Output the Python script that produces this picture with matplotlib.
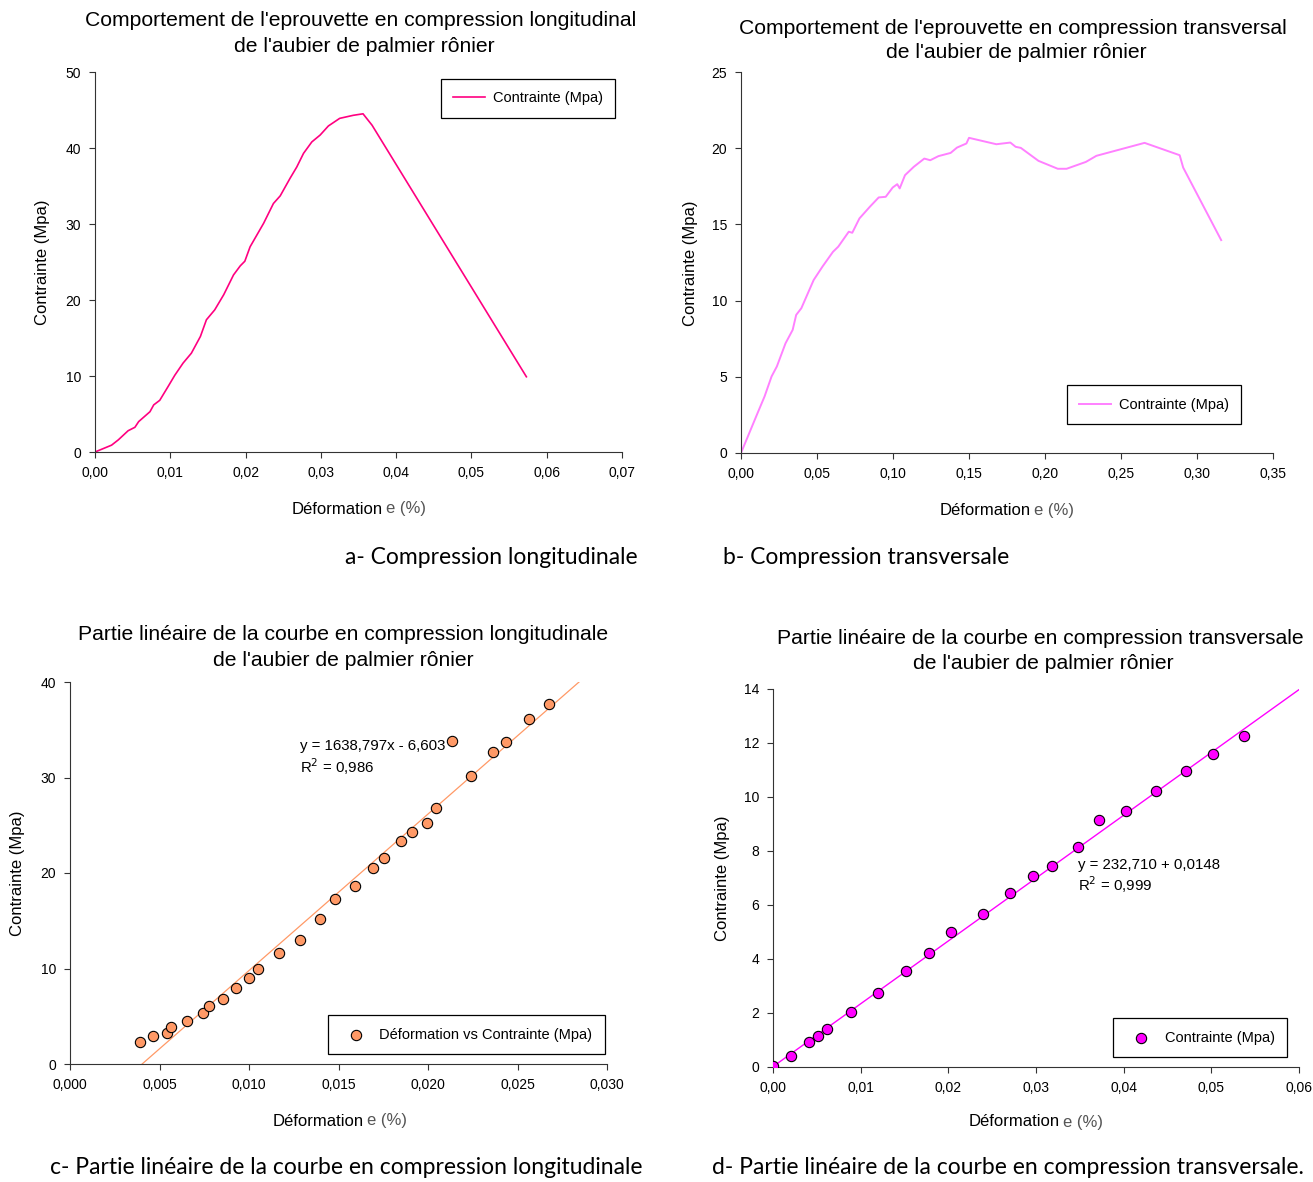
import numpy as np
import matplotlib.pyplot as plt
from matplotlib.ticker import FuncFormatter

plt.rcParams['font.family'] = ['Liberation Sans', 'DejaVu Sans']

# a - compression longitudinale
def_a = [0, 0.0022, 0.0031, 0.0044, 0.0053, 0.0058, 0.0073, 0.0078, 0.0086, 0.0097,
         0.0106, 0.0117, 0.0128, 0.0140, 0.0148, 0.0159, 0.0171, 0.0184, 0.0193, 0.0199,
         0.0206, 0.0224, 0.0237, 0.0246, 0.0259, 0.0268, 0.0277, 0.0288, 0.0299, 0.0310,
         0.0325, 0.0343, 0.0356, 0.0368, 0.0573]
con_a = [0, 0.9, 1.6, 2.8, 3.25, 4.0, 5.3, 6.2, 6.8, 8.6,
         10.1, 11.7, 13.0, 15.2, 17.4, 18.7, 20.7, 23.3, 24.5, 25.1,
         27.0, 30.1, 32.7, 33.7, 36.0, 37.5, 39.3, 40.8, 41.7, 42.9,
         43.9, 44.3, 44.5, 43.0, 9.9]

# b - compression transversale
def_b = [0, 0.0109, 0.0155, 0.0201, 0.0236, 0.0293, 0.0340, 0.0363, 0.0397, 0.0478,
         0.0536, 0.0605, 0.0640, 0.0709, 0.0732, 0.0779, 0.0848, 0.0906, 0.0952, 0.0998,
         0.1028, 0.1044, 0.1079, 0.1137, 0.1206, 0.1245, 0.1299, 0.1379, 0.1421, 0.1483,
         0.1500, 0.1680, 0.1772, 0.1807, 0.1841, 0.1957, 0.2084, 0.2142, 0.2269, 0.2338,
         0.2558, 0.2655, 0.2886, 0.2909, 0.3159]
con_b = [0, 2.62, 3.71, 5.02, 5.68, 7.2, 8.08, 9.06, 9.5, 11.35,
         12.23, 13.2, 13.54, 14.52, 14.45, 15.39, 16.16, 16.77, 16.81, 17.42,
         17.64, 17.36, 18.23, 18.78, 19.32, 19.21, 19.48, 19.69, 20.04, 20.31,
         20.68, 20.26, 20.37, 20.09, 20.02, 19.17, 18.65, 18.65, 19.1, 19.5,
         20.09, 20.35, 19.54, 18.73, 13.97]

# c - partie lineaire longitudinale
def_c = [0.0039, 0.00466, 0.0054, 0.00565, 0.00655, 0.00744, 0.00775, 0.00855, 0.00929, 0.0100,
         0.01048, 0.01168, 0.01283, 0.01399, 0.0148, 0.0159, 0.01692, 0.01753, 0.0185, 0.01909,
         0.01994, 0.02042, 0.02135, 0.02243, 0.02364, 0.02437, 0.02565, 0.02674]
con_c = [2.34, 2.9, 3.25, 3.84, 4.54, 5.31, 6.11, 6.78, 7.93, 9.05,
         9.99, 11.67, 13.03, 15.2, 17.29, 18.59, 20.51, 21.62, 23.37, 24.31,
         25.19, 26.83, 33.78, 30.11, 32.66, 33.68, 36.09, 37.73]
pente_c, orig_c = 1638.797, -6.603

# d - partie lineaire transversale
def_d = [0, 0.00208, 0.00408, 0.00508, 0.00612, 0.00893, 0.01197, 0.01517, 0.01785, 0.02033,
         0.02394, 0.02702, 0.0297, 0.03178, 0.03478, 0.03714, 0.04023, 0.04367, 0.04715, 0.05023,
         0.05372]
con_d = [0.02, 0.41, 0.94, 1.14, 1.4, 2.04, 2.74, 3.55, 4.23, 5.0,
         5.65, 6.46, 7.08, 7.45, 8.14, 9.13, 9.48, 10.24, 10.96, 11.6,
         12.26]
pente_d, orig_d = 232.710, 0.0148


def virgule(nd):
    fmt = '%.' + str(nd) + 'f'
    return FuncFormatter(lambda v, p: (fmt % v).replace('.', ','))


def style(ax, xt, yt, nx):
    for s in ['top', 'right']:
        ax.spines[s].set_visible(False)
    for s in ['left', 'bottom']:
        ax.spines[s].set_color('#333333')
    ax.set_xticks(xt)
    ax.set_yticks(yt)
    ax.set_xlim(xt[0], xt[-1])
    ax.set_ylim(yt[0], yt[-1])
    ax.xaxis.set_major_formatter(virgule(nx))
    ax.yaxis.set_major_formatter(FuncFormatter(lambda v, p: '%d' % v))
    ax.tick_params(direction='out', length=4, labelsize=10, color='#333333', pad=6)


def leg(ax, loc, anchor):
    l = ax.legend(loc=loc, bbox_to_anchor=anchor, borderaxespad=0, fancybox=False,
                  edgecolor='black', framealpha=1, fontsize=10.5, borderpad=0.85,
                  handlelength=2.2, handletextpad=0.5)
    l.get_frame().set_linewidth(0.9)


fig = plt.figure(figsize=(13.13, 11.82), dpi=100)
W, H = 1313, 1182


def axes_px(l, r, t, b):
    return fig.add_axes([l / W, 1 - b / H, (r - l) / W, (b - t) / H])


def txt(x, y, s, ha='center', **kw):
    fig.text(x / W, 1 - y / H, s, ha=ha, va='center', **kw)


ax1 = axes_px(95, 622, 72, 452)
ax1.plot(def_a, con_a, color='#FF0080', lw=1.2, label='Contrainte (Mpa)')
style(ax1, np.arange(0, 0.0701, 0.01), np.arange(0, 51, 10), 2)
leg(ax1, 'upper right', (0.987, 0.982))

ax2 = axes_px(741, 1273, 72, 453)
ax2.plot(def_b, con_b, color='#FF80FF', lw=1.4, label='Contrainte (Mpa)')
style(ax2, np.arange(0, 0.3501, 0.05), np.arange(0, 26, 5), 2)
leg(ax2, 'lower right', (0.94, 0.076))

ax3 = axes_px(70, 607, 682, 1064)
xl = np.array([-orig_c / pente_c, (40 - orig_c) / pente_c])
ax3.plot(xl, pente_c * xl + orig_c, color='#FF9966', lw=0.9)
ax3.scatter(def_c, con_c, s=55, color='#FF9966', edgecolor='black', linewidth=0.8,
            zorder=3, label='Déformation vs Contrainte (Mpa)')
style(ax3, np.arange(0, 0.0301, 0.005), np.arange(0, 41, 10), 3)
leg(ax3, 'lower right', (0.996, 0.026))
ax3.text(0.01285, 33.3, 'y = 1638,797x - 6,603', fontsize=10.8, va='center')
ax3.text(0.01285, 31.1, 'R$^2$ = 0,986', fontsize=10.8, va='center')

ax4 = axes_px(773, 1299, 689, 1067)
xl = np.array([0, 0.06])
ax4.plot(xl, pente_d * xl + orig_d, color='#FF00FF', lw=1)
ax4.scatter(def_d, con_d, s=55, color='#FF00FF', edgecolor='black', linewidth=0.8,
            zorder=3, label='Contrainte (Mpa)')
style(ax4, np.arange(0, 0.0601, 0.01), np.arange(0, 15, 2), 2)
leg(ax4, 'lower right', (0.977, 0.026))
ax4.text(0.0348, 7.48, 'y = 232,710 + 0,0148', fontsize=10.8, va='center')
ax4.text(0.0348, 6.74, 'R$^2$ = 0,999', fontsize=10.8, va='center')

# titres
tf = 15.2
txt(361, 21, "Comportement de l'eprouvette en compression longitudinal", fontsize=tf)
txt(364, 46, "de l'aubier de palmier rônier", fontsize=tf)
txt(1013, 28, "Comportement de l'eprouvette en compression transversal", fontsize=tf)
txt(1016, 53, "de l'aubier de palmier rônier", fontsize=tf)
txt(343, 635, "Partie linéaire de la courbe en compression longitudinale", fontsize=tf)
txt(343, 660, "de l'aubier de palmier rônier", fontsize=tf)
txt(1040, 639, "Partie linéaire de la courbe en compression transversale", fontsize=tf)
txt(1043, 664, "de l'aubier de palmier rônier", fontsize=tf)

# axes labels
for x, y in [(43, 262), (690, 263), (18, 873), (723, 878)]:
    txt(x, y, 'Contrainte (Mpa)', fontsize=12, rotation=90)
for x, y in [(383, 509), (1031, 511), (364, 1121), (1060, 1122)]:
    txt(x, y, 'Déformation', ha='right', fontsize=12)
    txt(x + 3, y, 'e (%)', ha='left', fontsize=12, color='#555555')

# legendes des figures
cf = dict(fontsize=16.5, family=['Lato', 'DejaVu Sans'])
txt(491, 557, 'a- Compression longitudinale', **cf)
txt(866, 557, 'b- Compression transversale', **cf)
txt(346, 1168, 'c- Partie linéaire de la courbe en compression longitudinale', **cf)
txt(1008, 1168, 'd- Partie linéaire de la courbe en compression transversale.', **cf)

fig.savefig('out.png', dpi=100)
